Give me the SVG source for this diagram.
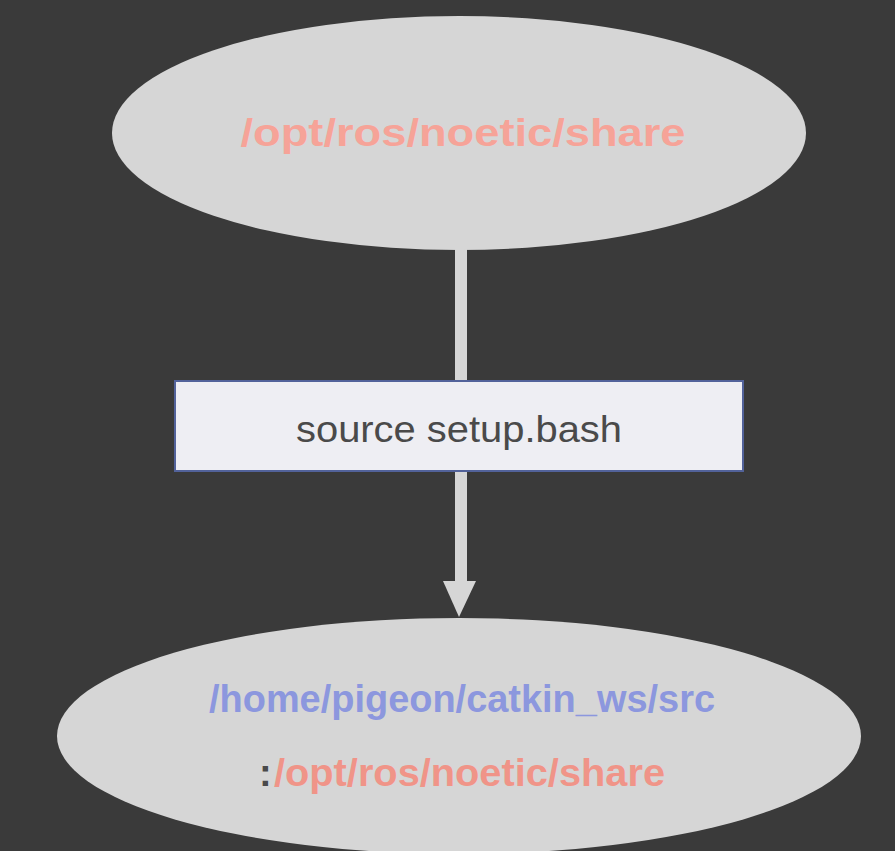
<svg xmlns="http://www.w3.org/2000/svg" width="895" height="851" viewBox="0 0 895 851">
<style>
.ell{fill:#d6d6d6}
.t{font-family:"Liberation Sans","DejaVu Sans",sans-serif;font-weight:bold;font-size:38px}
.red{fill:#f6a398}
.blue{fill:#8c97de}
.dark{fill:#4a4a4a}
</style>
<rect width="895" height="851" fill="#3a3a3a"/>
<g id="connectors">
<line x1="461" y1="248" x2="461" y2="581" stroke="#d6d6d6" stroke-width="12"/>
<path d="M443,581 L476,581 L459,617 Z" fill="#d6d6d6"/>
</g>
<g id="top">
<ellipse class="ell" cx="459" cy="133" rx="347" ry="117"/>
<text class="t red" x="463" y="146" text-anchor="middle" textLength="445" lengthAdjust="spacingAndGlyphs">/opt/ros/noetic/share</text>
</g>
<g id="cmd">
<rect x="175" y="381" width="568" height="90" fill="#eeeef3" stroke="#52629a" stroke-width="2"/>
<text class="dark" x="459" y="442" text-anchor="middle" font-family="'Liberation Sans','DejaVu Sans',sans-serif" font-size="36" textLength="326" lengthAdjust="spacingAndGlyphs">source setup.bash</text>
</g>
<g id="bottom">
<ellipse class="ell" cx="459" cy="736" rx="402" ry="118"/>
<text class="t blue" x="462" y="712" text-anchor="middle" textLength="506" lengthAdjust="spacingAndGlyphs">/home/pigeon/catkin_ws/src</text>
<text class="t dark" x="259" y="786">:</text>
<text class="t" x="274" y="786" fill="#f09488" textLength="391" lengthAdjust="spacingAndGlyphs">/opt/ros/noetic/share</text>
</g>
</svg>
